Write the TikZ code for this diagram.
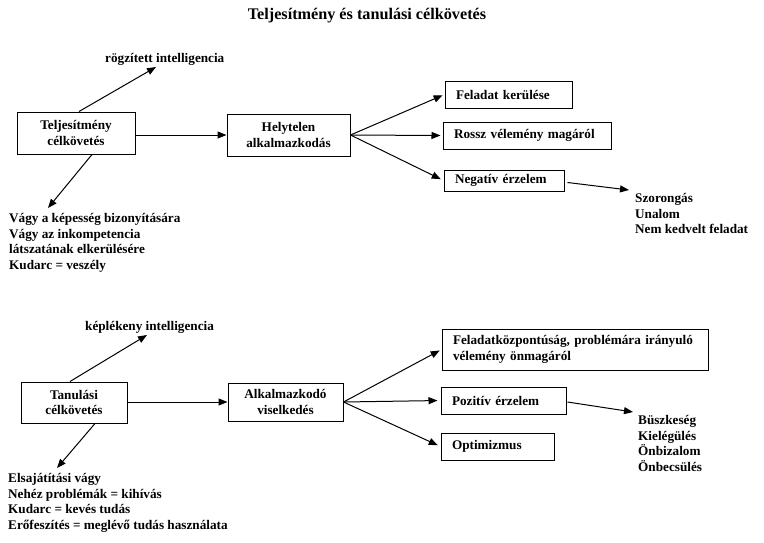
\documentclass[tikz,border=0pt]{standalone}
\usepackage{fontspec}
\setmainfont{Liberation Serif}
\usetikzlibrary{arrows.meta}
\begin{document}
\begin{tikzpicture}[x=1pt,y=-1pt,
  every node/.style={font=\bfseries\fontsize{13.2}{15.7}\selectfont, inner sep=0pt},
  cbox/.style={draw, line width=1pt, align=center},
  lbox/.style={draw, line width=1pt, align=left, inner xsep=11pt},
  lst/.style={align=left, anchor=north west},
  arr/.style={line width=1pt, -{Triangle[length=9pt,width=7pt]}},
]
\useasboundingbox (0,0) rectangle (764,542);
% title
\node (title) at (367,16) {\fontsize{16.2}{19}\selectfont Teljesítmény és tanulási célkövetés};

% top row
\node[cbox, minimum width=118pt, minimum height=42pt] (tc) at (76,133) {Teljesítmény\\célkövetés};
\node[cbox, minimum width=123pt, minimum height=42pt] (hel) at (288.5,135) {Helytelen\\alkalmazkodás};
\node[lbox, text width=105pt, minimum height=27pt] (fk) at (508.5,94.5) {Feladat kerülése};
\node[lbox, text width=146pt, minimum height=27pt] (rv) at (527,135.5) {Rossz vélemény magáról};
\node[lbox, text width=98pt, minimum height=21pt] (ne) at (504,180.5) {Negatív érzelem};

\node[anchor=west] (rgz) at (105,59) {rögzített intelligencia};
\node[lst] (vagy) at (9,213) {Vágy a képesség bizonyítására\\Vágy az inkompetencia\\látszatának elkerülésére\\Kudarc = veszély};
\node[lst] (szor) at (635,193) {Szorongás\\Unalom\\Nem kedvelt feladat};

\coordinate (rgzTip) at (156,67);
\coordinate (vagyTip) at (48,208);
\coordinate (szorTip) at (629,190);

\draw[arr] ([xshift=3pt]tc.north) -- (rgzTip);
\draw[arr] ([xshift=16pt]tc.south) -- (vagyTip);
\draw[arr] (tc.east |- hel.west) -- (hel.west);
\draw[arr, shorten >=2pt] (hel.east) -- (fk.west);
\draw[arr, shorten >=2pt] (hel.east) -- (rv.west);
\draw[arr, shorten >=3pt] (hel.east) -- (ne.west);
\draw[arr] ([xshift=3pt,yshift=-2pt]ne.east) -- (szorTip);

% bottom row
\node[cbox, minimum width=106pt, minimum height=41pt] (tan) at (74,402.5) {Tanulási\\célkövetés};
\node[cbox, minimum width=115pt, minimum height=38pt] (alk) at (285.5,402) {Alkalmazkodó\\viselkedés};
\node[lbox, text width=244pt, minimum height=41pt] (fkp) at (575,349.5) {Feladatközpontúság, problémára irányuló\\vélemény önmagáról};
\node[lbox, text width=103pt, minimum height=27pt] (poz) at (503.5,400.5) {Pozitív érzelem};
\node[lbox, text width=91pt, minimum height=27pt] (opt) at (497.5,446.5) {Optimizmus};

\node[anchor=west] (kep) at (85,327) {képlékeny intelligencia};
\node[lst] (elsa) at (8,473) {Elsajátítási vágy\\Nehéz problémák = kihívás\\Kudarc = kevés tudás\\Erőfeszítés = meglévő tudás használata};
\node[lst] (busz) at (638,415) {Büszkeség\\Kielégülés\\Önbizalom\\Önbecsülés};

\coordinate (kepTip) at (147,335);
\coordinate (elsaTip) at (57,468);
\coordinate (buszTip) at (633,412);

\draw[arr] ([xshift=-4pt]tan.north) -- (kepTip);
\draw[arr] ([xshift=21pt]tan.south) -- (elsaTip);
\draw[arr] (tan.east |- alk.west) -- (alk.west);
\draw[arr, shorten >=2pt] (alk.east) -- (fkp.west);
\draw[arr, shorten >=3pt] (alk.east) -- (poz.west);
\draw[arr, shorten >=3pt] (alk.east) -- (opt.west);
\draw[arr] ([xshift=1pt,yshift=-1.5pt]poz.east) -- (buszTip);
\end{tikzpicture}
\end{document}
